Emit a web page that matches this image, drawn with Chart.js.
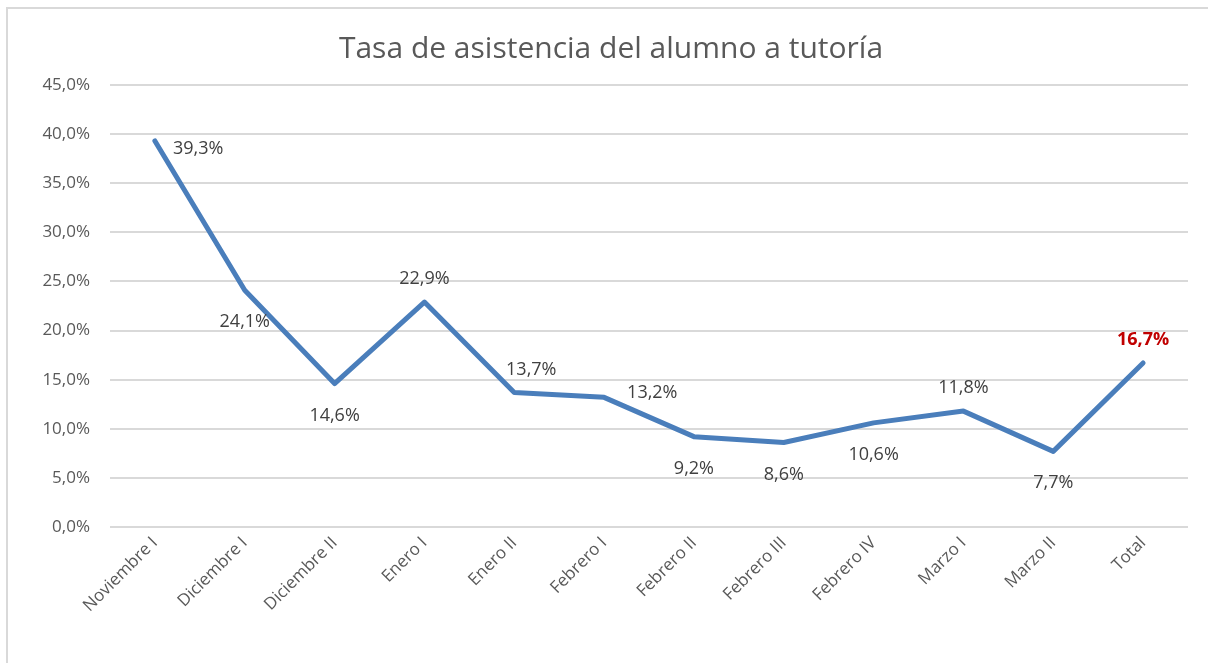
<!DOCTYPE html>
<html>
<head>
<meta charset="utf-8">
<script src="https://cdn.jsdelivr.net/npm/chart.js@4/dist/chart.umd.min.js"></script>
<style>
  html, body { margin: 0; padding: 0; background: #fff; }
  #wrap { position: absolute; left: 0; top: 0; width: 1208px; height: 663px; }
  #frame { position: absolute; left: 6px; top: 7px; width: 1220px; height: 680px;
           border-left: 2px solid #d9d9d9; border-top: 2px solid #d9d9d9; pointer-events: none; }
</style>
</head>
<body>
<div id="wrap">
  <canvas id="grafico" width="1208" height="663"></canvas>
  <div id="frame"></div>
</div>
<script>
// datos
const categorias = ['Noviembre I', 'Diciembre I', 'Diciembre II', 'Enero I', 'Enero II', 'Febrero I',
  'Febrero II', 'Febrero III', 'Febrero IV', 'Marzo I', 'Marzo II', 'Total'];
const tasas = [39.3, 24.1, 14.6, 22.9, 13.7, 13.2, 9.2, 8.6, 10.6, 11.8, 7.7, 16.7];
// donde va cada etiqueta respecto al punto
const posEtiquetas = ['right', 'below', 'below', 'above', 'above', 'right',
  'below', 'below', 'below', 'above', 'below', 'above'];
const ticksY = [0, 5, 10, 15, 20, 25, 30, 35, 40, 45];

const fuente = "'Open Sans', 'Noto Sans', sans-serif";

function formato(v) {
  return v.toFixed(1).replace('.', ',') + '%';
}

// plugin sencillo para las etiquetas de datos
const etiquetasPlugin = {
  id: 'etiquetas',
  afterDatasetsDraw(chart) {
    const ctx = chart.ctx;
    const meta = chart.getDatasetMeta(0);
    ctx.save();
    meta.data.forEach((pt, i) => {
      const ultimo = i === tasas.length - 1;
      ctx.font = (ultimo ? 'bold ' : '') + '18px ' + fuente;
      ctx.fillStyle = ultimo ? '#c00000' : '#404040';
      ctx.textBaseline = 'middle';
      let x = pt.x, y = pt.y;
      const pos = posEtiquetas[i];
      if (pos === 'right') {
        ctx.textAlign = 'left';
        x += 18; y += 8;
        if (i === 5) { x += 5; y -= 12; }
      } else if (pos === 'above') {
        ctx.textAlign = 'center';
        y -= 23;
        if (i === 4) x += 17;
      } else {
        ctx.textAlign = 'center';
        y += 32;
      }
      ctx.fillText(formato(tasas[i]), x, y);
    });
    ctx.restore();
  }
};

const ctx = document.getElementById('grafico').getContext('2d');
new Chart(ctx, {
  type: 'line',
  data: {
    labels: categorias,
    datasets: [{
      label: 'Tasa',
      data: tasas,
      borderColor: '#4a7ebb',
      borderWidth: 5,
      pointRadius: 0,
      tension: 0,
      borderCapStyle: 'round',
      borderJoinStyle: 'round',
      fill: false
    }]
  },
  options: {
    responsive: false,
    animation: false,
    layout: { padding: { left: 34, right: 20, top: 0, bottom: 0 } },
    plugins: {
      legend: { display: false },
      tooltip: { enabled: false },
      title: {
        display: true,
        text: 'Tasa de asistencia del alumno a tutoría',
        color: '#595959',
        font: { family: fuente, size: 30, weight: 'normal' },
        padding: { top: 31, bottom: 18 }
      }
    },
    scales: {
      x: {
        offset: true,
        grid: { display: false, drawTicks: false },
        border: { display: false },
        ticks: {
          color: '#595959',
          font: { family: fuente, size: 17 },
          minRotation: 45,
          maxRotation: 45,
          autoSkip: false,
          padding: 6
        },
        afterFit(scale) { scale.height = 663 - 527; }
      },
      y: {
        min: 0,
        max: 45,
        afterBuildTicks(scale) { scale.ticks = ticksY.map(v => ({ value: v })); },
        grid: { color: '#d9d9d9', lineWidth: 2, drawTicks: false },
        border: { display: false },
        ticks: {
          color: '#595959',
          font: { family: fuente, size: 17 },
          padding: 20,
          callback: v => formato(v)
        },
        afterFit(scale) { scale.width = 110 - 34; }
      }
    }
  },
  plugins: [etiquetasPlugin]
});
</script>
</body>
</html>
